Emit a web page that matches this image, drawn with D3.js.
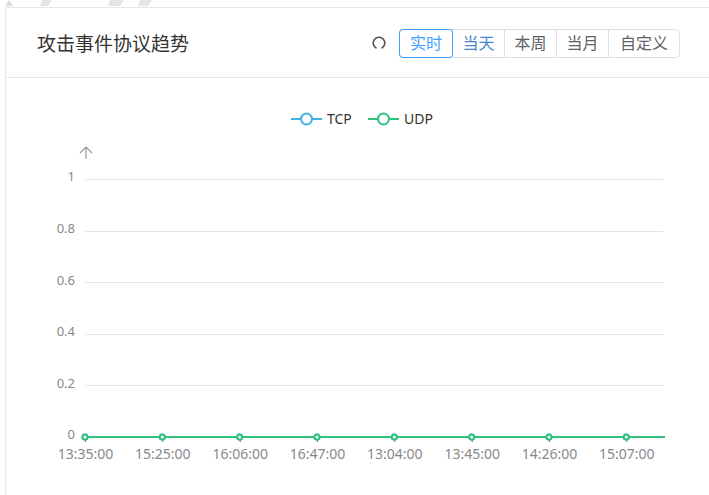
<!DOCTYPE html>
<html>
<head>
<meta charset="utf-8">
<script src="https://cdn.jsdelivr.net/npm/d3@7"></script>
<style>
  body { margin: 0; background: #fff; }
  svg { display: block; font-family: "Noto Sans CJK SC", "Noto Sans", sans-serif; }
</style>
</head>
<body>
<svg width="709" height="495"></svg>
<script>
// data
var times = ["13:35:00", "14:30:00", "15:25:00", "15:45:00", "16:06:00", "16:26:00", "16:47:00", "12:44:00",
             "13:04:00", "13:25:00", "13:45:00", "14:06:00", "14:26:00", "14:47:00", "15:07:00", "15:27:00"];
var tcp = [0, 0, 0, 0, 0, 0, 0, 0, 0, 0, 0, 0, 0, 0, 0, 0];
var udp = [0, 0, 0, 0, 0, 0, 0, 0, 0, 0, 0, 0, 0, 0, 0, 0];
var seriesNames = ["TCP", "UDP"];
var yTicks = [0, 0.2, 0.4, 0.6, 0.8, 1];
var buttons = ["实时", "当天", "本周", "当月", "自定义"];

var svg = d3.select("svg");
var color = d3.scaleOrdinal().domain(seriesNames).range(["#3fb1e3", "#2fc27d"]);

// faint decoration at top
svg.append("path").attr("d", "M5,6 L9,0 L13,6 Z").attr("fill", "#ddd");
[[42, 52], [110, 124], [140, 152]].forEach(function(p) {
  svg.append("path")
    .attr("d", "M" + p[0] + ",0 L" + (p[1]) + ",0 L" + (p[1] - 4) + ",6 L" + (p[0] - 2) + ",6 Z")
    .attr("fill", "#e6e6e6");
});

// card
svg.append("rect").attr("x", 5.5).attr("y", 7.5).attr("width", 720).attr("height", 500)
  .attr("fill", "#fff").attr("stroke", "#e8e8e8");
svg.append("line").attr("x1", 6).attr("x2", 709).attr("y1", 77.5).attr("y2", 77.5).attr("stroke", "#e8e8e8");

svg.append("text").attr("x", 37).attr("y", 51).attr("font-size", 19).attr("fill", "#333")
  .text("攻击事件协议趋势");

// refresh icon (open at the bottom)
svg.append("path").attr("transform", "translate(379,43)")
  .attr("d", d3.arc()({innerRadius: 5, outerRadius: 6.6, startAngle: Math.PI + 0.45, endAngle: Math.PI * 3 - 0.45}))
  .attr("fill", "#555");

// button group
var widths = [53, 52, 52, 52, 71];
var bx = 399.5;
var btn = svg.append("g");
var xs = [];
widths.forEach(function(w) { xs.push(bx); bx += w; });
btn.append("rect").attr("x", 399.5).attr("y", 29.5).attr("width", 280).attr("height", 28)
  .attr("rx", 4).attr("fill", "#fff").attr("stroke", "#dcdfe6");
buttons.forEach(function(b, i) {
  if (i > 0) {
    btn.append("line").attr("x1", xs[i]).attr("x2", xs[i]).attr("y1", 30).attr("y2", 57)
      .attr("stroke", "#dcdfe6");
  }
  btn.append("text").attr("x", xs[i] + widths[i] / 2).attr("y", 49).attr("text-anchor", "middle")
    .attr("font-size", 16).attr("fill", i == 0 ? "#409eff" : (i == 1 ? "#4a86c8" : "#606266"))
    .text(b);
});
btn.append("rect").attr("x", 399.5).attr("y", 29.5).attr("width", 53).attr("height", 28)
  .attr("rx", 3).attr("fill", "none").attr("stroke", "#409eff");

// chart
var x = d3.scalePoint().domain(times).range([85, 665]);
var y = d3.scaleLinear().domain([0, 1]).range([437, 179]);

var g = svg.append("g");
g.selectAll(".grid").data(yTicks.slice(1)).enter().append("line")
  .attr("x1", 85).attr("x2", 663)
  .attr("y1", function(d) { return Math.round(y(d)) + 0.5; })
  .attr("y2", function(d) { return Math.round(y(d)) + 0.5; })
  .attr("stroke", "#e0e6f1");

var yAxis = g.append("g").attr("transform", "translate(85,0)")
  .call(d3.axisLeft(y).tickValues(yTicks).tickSize(0).tickPadding(10).tickFormat(d3.format("")));
yAxis.select(".domain").remove();
yAxis.selectAll("text").attr("font-size", 13).attr("fill", "#888").attr("font-family", "Noto Sans, sans-serif")
  .attr("dy", "0.15em");

// y axis arrow
g.append("path").attr("d", "M80,153 L86,147 L92,153 M86,147 L86,159")
  .attr("fill", "none").attr("stroke", "#999").attr("stroke-width", 1.2);

var labelled = times.filter(function(d, i) { return i % 2 == 0; });
var xAxis = g.append("g").attr("transform", "translate(0,437)")
  .call(d3.axisBottom(x).tickValues(labelled).tickSize(5).tickPadding(7));
xAxis.select(".domain").attr("d", "M85,0.5H663").attr("stroke", "#6e7079");
xAxis.selectAll(".tick line").attr("stroke", "#6e7079");
xAxis.selectAll("text").attr("font-size", 14).attr("fill", "#888").attr("font-family", "Noto Sans, sans-serif");

var line = d3.line().x(function(d, i) { return x(times[i]); }).y(function(d) { return y(d); });
[tcp, udp].forEach(function(s, k) {
  var c = color(seriesNames[k]);
  g.append("path").datum(s).attr("d", line).attr("fill", "none").attr("stroke", c).attr("stroke-width", 2);
  g.selectAll(".pt" + k).data(s.filter(function(d, i) { return i % 2 == 0; })).enter().append("circle")
    .attr("cx", function(d, i) { return x(times[i * 2]); })
    .attr("cy", function(d) { return y(d); })
    .attr("r", 2.5).attr("fill", "#fff").attr("stroke", c).attr("stroke-width", 2);
});

// legend
var legend = g.selectAll(".legend").data(seriesNames).enter().append("g")
  .attr("transform", function(d, i) { return "translate(" + (291 + i * 77) + ",119)"; });
legend.append("line").attr("x1", 0).attr("x2", 31).attr("stroke", color).attr("stroke-width", 2);
legend.append("circle").attr("cx", 15.5).attr("r", 5.5).attr("fill", "#fff").attr("stroke", color).attr("stroke-width", 2);
legend.append("text").attr("x", 36).attr("dy", "0.36em").attr("font-size", 14).attr("fill", "#333")
  .attr("font-family", "Noto Sans, sans-serif")
  .text(function(d) { return d; });
</script>
</body>
</html>
